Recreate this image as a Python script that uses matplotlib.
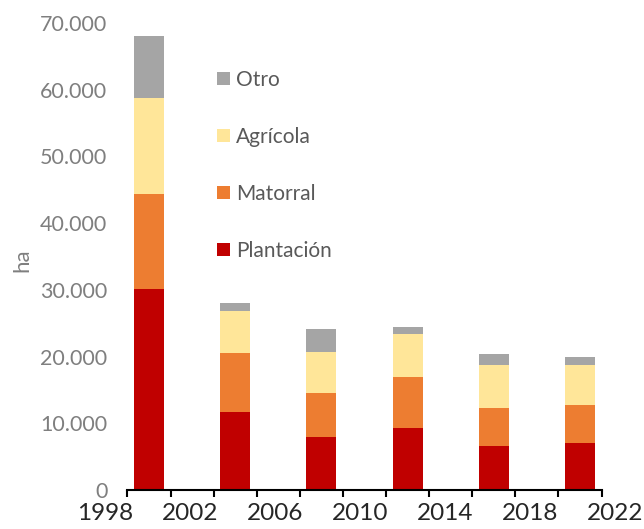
import numpy as np
import matplotlib.pyplot as plt
from matplotlib.ticker import FuncFormatter

plt.rcParams['font.family'] = ['Lato', 'DejaVu Sans']

years = [2000, 2004, 2008, 2012, 2016, 2020]
plantacion = [30100, 11650, 8000, 9350, 6650, 7000]
matorral = [14250, 8850, 6500, 7650, 5600, 5750]
agricola = [14400, 6300, 6150, 6350, 6450, 5950]
otro = [9300, 1200, 3450, 1150, 1750, 1200]

series = [('Plantación', plantacion, '#C00000'),
          ('Matorral', matorral, '#ED7D31'),
          ('Agrícola', agricola, '#FFE699'),
          ('Otro', otro, '#A5A5A5')]

label_years = [1998, 2002, 2006, 2010, 2014, 2018, 2022]
tick_years = np.arange(1999, 2022, 2)

fig = plt.figure(figsize=(6.44, 5.29), dpi=100)
ax = fig.add_axes([60/644, 39/529, 584/644, 466.9/529])

bottom = np.zeros(len(years))
handles = []
for name, vals, col in series:
    b = ax.bar(years, vals, width=1.39, bottom=bottom, color=col, label=name)
    handles.append(b)
    bottom += np.array(vals)

ax.set_xlim(1995.87, 2022.97)
ax.set_ylim(0, 70000)

ax.spines['top'].set_visible(False)
ax.spines['right'].set_visible(False)
ax.spines['left'].set_visible(False)
ax.spines['left'].set_position(('data', 1999))
ax.spines['bottom'].set_bounds(1999, 2021)
ax.spines['bottom'].set_linewidth(1.5)

ax.set_yticks(np.arange(0, 70001, 10000))
ax.yaxis.set_major_formatter(FuncFormatter(lambda v, p: f"{int(v):,}".replace(",", ".")))
ax.tick_params(axis='y', length=0, pad=14.5, labelsize=15.5, labelcolor='#7f7f7f')

# year labels sit a bit off the tick marks, as in the original
label_pos = [1997.96 + (y - 1998) * 0.986 for y in label_years]
ax.set_xticks(label_pos, [str(y) for y in label_years])
ax.set_xticks(tick_years, minor=True)
ax.tick_params(axis='x', which='major', length=0, pad=9, labelsize=17.5, labelcolor='#262626')
ax.tick_params(axis='x', which='minor', length=5, width=1.5, direction='out')

ax.set_ylabel('ha', fontsize=16, color='#7f7f7f')
ax.yaxis.set_label_coords(-0.048, 0.493)

leg = ax.legend(handles[::-1], [s[0] for s in series][::-1],
                loc='upper left', bbox_to_anchor=(217.3/644, 1 - 69.8/529),
                bbox_transform=fig.transFigure, frameon=False, fontsize=15,
                handlelength=0.61, handleheight=0.61, handletextpad=0.3,
                labelspacing=1.78, borderpad=0, borderaxespad=0)
for t in leg.get_texts():
    t.set_color('#595959')

fig.savefig('out.png', dpi=100)
